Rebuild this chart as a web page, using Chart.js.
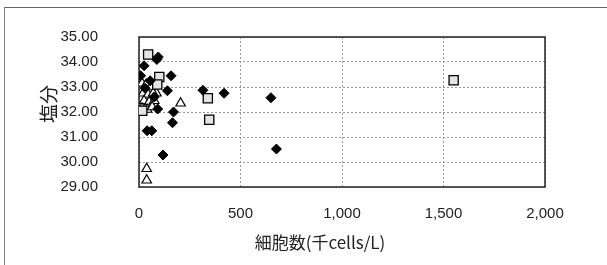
<!DOCTYPE html>
<html>
<head>
<meta charset="utf-8">
<script src="https://cdn.jsdelivr.net/npm/chart.js@4/dist/chart.umd.min.js"></script>
<style>
  html, body { margin: 0; padding: 0; background: #fff; }
  #wrap { position: relative; width: 607px; height: 265px; overflow: hidden; }
  #frame { position: absolute; left: 4px; top: 7px; width: 700px; height: 400px;
           border-top: 1px solid #666; border-left: 1px solid #888; }
  canvas { position: absolute; left: 0; top: 0; }
</style>
</head>
<body>
<div id="wrap">
  <div id="frame"></div>
  <canvas id="c" width="607" height="265"></canvas>
</div>
<script>
// ---- data ----
const diamondX = [25, 95, 88, 158, 8, 55, 30, 75, 140, 315, 419, 650, 677, 92, 170, 165, 40, 63, 118];
const diamondY = [33.85, 34.2, 34.1, 33.45, 33.45, 33.25, 32.95, 32.6, 32.85, 32.87, 32.75, 32.57, 30.52, 32.12, 32.0, 31.57, 31.25, 31.25, 30.28];

const squareX = [45, 100, 90, 16, 339, 346, 1550];
const squareY = [34.3, 33.4, 33.1, 32.05, 32.55, 31.69, 33.27];

const triangleX = [15, 35, 60, 86, 20, 45, 70, 25, 50, 75, 15, 40, 65, 205, 38, 38];
const triangleY = [33.15, 33.1, 33.0, 32.75, 32.75, 32.7, 32.75, 32.45, 32.4, 32.45, 32.15, 32.1, 32.2, 32.35, 29.73, 29.27];

const xTicks = [0, 500, 1000, 1500, 2000];
const yTicks = [29, 30, 31, 32, 33, 34, 35];
const xTitle = '細胞数(千cells/L)';
const yTitle = '塩分';

const pts = (xs, ys) => xs.map((x, i) => ({ x: x, y: ys[i] }));

const frame = {
  id: 'frame',
  beforeDatasetsDraw(chart) {
    const a = chart.chartArea, ctx = chart.ctx;
    ctx.save();
    ctx.strokeStyle = '#222';
    ctx.lineWidth = 1.5;
    ctx.strokeRect(a.left, a.top, a.right - a.left, a.bottom - a.top);
    ctx.restore();
  },
  afterDraw(chart) {
    const ctx = chart.ctx;
    ctx.save();
    ctx.fillStyle = '#222';
    ctx.textAlign = 'center';
    ctx.textBaseline = 'middle';
    ctx.font = '17px "Noto Sans CJK JP"';
    ctx.fillText(xTitle, 320, 243);
    ctx.translate(49, 104);
    ctx.rotate(-Math.PI / 2);
    ctx.font = '19px "Noto Sans CJK JP"';
    ctx.fillText(yTitle, 0, 0);
    ctx.restore();
  }
};

const gridCommon = { color: '#999', lineWidth: 1, drawTicks: false };

new Chart(document.getElementById('c'), {
  type: 'scatter',
  data: {
    datasets: [
      { data: pts(diamondX, diamondY), pointStyle: 'rectRot', pointRadius: 5, backgroundColor: '#000', borderColor: '#000', borderWidth: 1 },
      { data: pts(squareX, squareY), pointStyle: 'rect', pointRadius: 6.5, backgroundColor: '#e4e4e4', borderColor: '#000', borderWidth: 1.3 },
      { data: pts(triangleX, triangleY), pointStyle: 'triangle', pointRadius: 5.5, backgroundColor: '#fff', borderColor: '#000', borderWidth: 1.2 }
    ]
  },
  options: {
    responsive: false,
    animation: false,
    layout: { padding: { left: 0, right: 62, top: 37, bottom: 0 } },
    plugins: { legend: { display: false }, tooltip: { enabled: false } },
    scales: {
      x: {
        type: 'linear', min: 0, max: 2000,
        afterBuildTicks: s => { s.ticks = xTicks.map(v => ({ value: v })); },
        afterFit: s => { s.height = 78; },
        ticks: { color: '#222', font: { family: 'Liberation Sans', size: 15 }, padding: 18,
                 callback: v => v.toLocaleString('en-US') },
        grid: gridCommon,
        border: { display: false, dash: [2, 2] }
      },
      y: {
        type: 'linear', min: 29, max: 35,
        afterBuildTicks: s => { s.ticks = yTicks.map(v => ({ value: v })); },
        afterFit: s => { s.width = 139; s.paddingTop = 0; s.paddingBottom = 0; },
        ticks: { color: '#222', font: { family: 'Liberation Sans', size: 15 }, padding: 41,
                 callback: v => v.toFixed(2) },
        grid: gridCommon,
        border: { display: false, dash: [2, 2] }
      }
    }
  },
  plugins: [frame]
});
</script>
</body>
</html>
